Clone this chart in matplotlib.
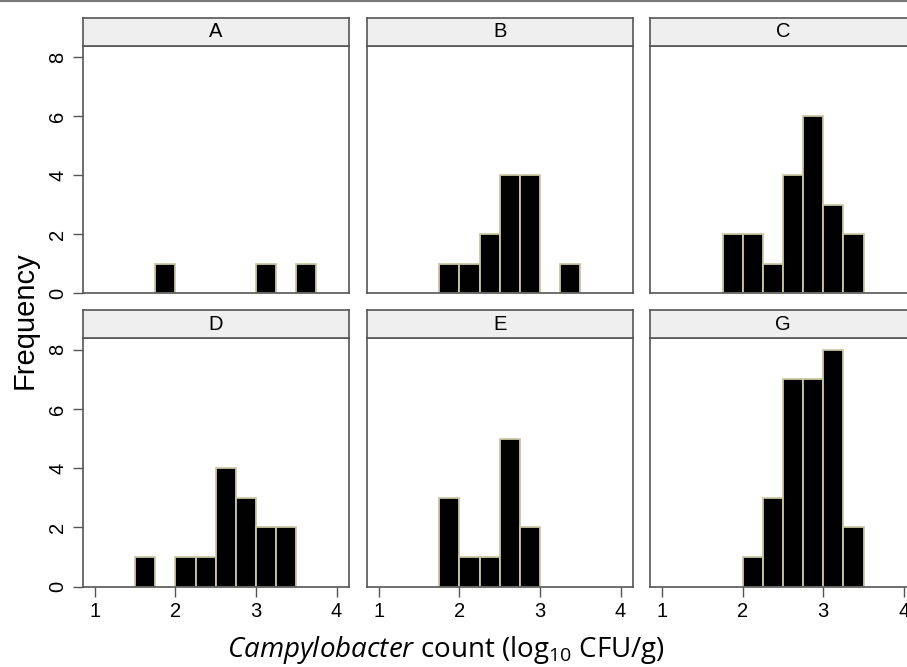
import numpy as np
import matplotlib
matplotlib.use("Agg")
from matplotlib import pyplot as plt

plt.rcParams['font.family'] = ['Liberation Sans', 'DejaVu Sans']
plt.rcParams['mathtext.fontset'] = 'custom'
plt.rcParams['mathtext.rm'] = 'Open Sans'
plt.rcParams['mathtext.it'] = 'Open Sans:italic'

# histogram data: left bin edges (log10 CFU/g) and counts, bin width 0.25
panels = ['A', 'B', 'C', 'D', 'E', 'G']
bin_width = 0.25
edges_A = [1.75, 3.0, 3.5]
counts_A = [1, 1, 1]
edges_B = [1.75, 2.0, 2.25, 2.5, 2.75, 3.25]
counts_B = [1, 1, 2, 4, 4, 1]
edges_C = [1.75, 2.0, 2.25, 2.5, 2.75, 3.0, 3.25]
counts_C = [2, 2, 1, 4, 6, 3, 2]
edges_D = [1.5, 2.0, 2.25, 2.5, 2.75, 3.0, 3.25]
counts_D = [1, 1, 1, 4, 3, 2, 2]
edges_E = [1.75, 2.0, 2.25, 2.5, 2.75]
counts_E = [3, 1, 1, 5, 2]
edges_G = [2.0, 2.25, 2.5, 2.75, 3.0, 3.25]
counts_G = [1, 3, 7, 7, 8, 2]

edges = [edges_A, edges_B, edges_C, edges_D, edges_E, edges_G]
counts = [counts_A, counts_B, counts_C, counts_D, counts_E, counts_G]

W, H = 907, 667
fig = plt.figure(figsize=(W / 100, H / 100), dpi=100)

col_left = [82.7, 366.7, 650.0]
col_w = 266.0
row_top = [45.5, 338.0]       # top of plot area (px)
row_h = [247.8, 248.7]
head_h = 27.7
frame = '#555555'

for i, name in enumerate(panels):
    r, c = divmod(i, 3)
    x0 = col_left[c] / W
    y0 = 1 - (row_top[r] + row_h[r]) / H
    ax = fig.add_axes([x0, y0, col_w / W, row_h[r] / H])
    ax.bar(edges[i], counts[i], width=bin_width, align='edge',
           color='black', edgecolor='#c9c7a4', linewidth=1.3)
    ax.set_xlim(0.85, 4.15)
    ax.set_ylim(0, 8.4)
    for s in ax.spines.values():
        s.set_color(frame)
        s.set_linewidth(1.2)
    ax.set_yticks([0, 2, 4, 6, 8])
    ax.set_xticks([1, 2, 3, 4])
    ax.tick_params(direction='out', length=7, width=1, color=frame,
                   labelsize=14.5, pad=4)
    if c == 0:
        ax.tick_params(axis='y', labelrotation=90)
        for lab in ax.get_yticklabels():
            lab.set_va('center')
    else:
        ax.tick_params(axis='y', left=False, labelleft=False)
    if r == 0:
        ax.tick_params(axis='x', bottom=False, labelbottom=False)

    # strip header
    hy0 = 1 - row_top[r] / H
    hax = fig.add_axes([x0, hy0, col_w / W, head_h / H])
    hax.set_facecolor('#efefef')
    hax.set_xticks([])
    hax.set_yticks([])
    for s in hax.spines.values():
        s.set_color(frame)
        s.set_linewidth(1.2)
    hax.text(0.5, 0.5, name, ha='center', va='center', fontsize=14.5,
             transform=hax.transAxes)

fig.text(25 / W, 1 - 320 / H, 'Frequency', rotation=90, ha='center',
         va='center', fontsize=21)
fig.text(446 / W, 1 - 650 / H,
         r'$\it{Campylobacter}$ count (log$_{\rm 10}$ CFU/g)',
         family='Open Sans', ha='center', va='center', fontsize=20)

# thin border line at top of image
fig.add_artist(plt.Line2D([0, 1], [1 - 1 / H, 1 - 1 / H], color='#777777',
                          linewidth=1.5, transform=fig.transFigure))

fig.savefig('out.png', dpi=100)
